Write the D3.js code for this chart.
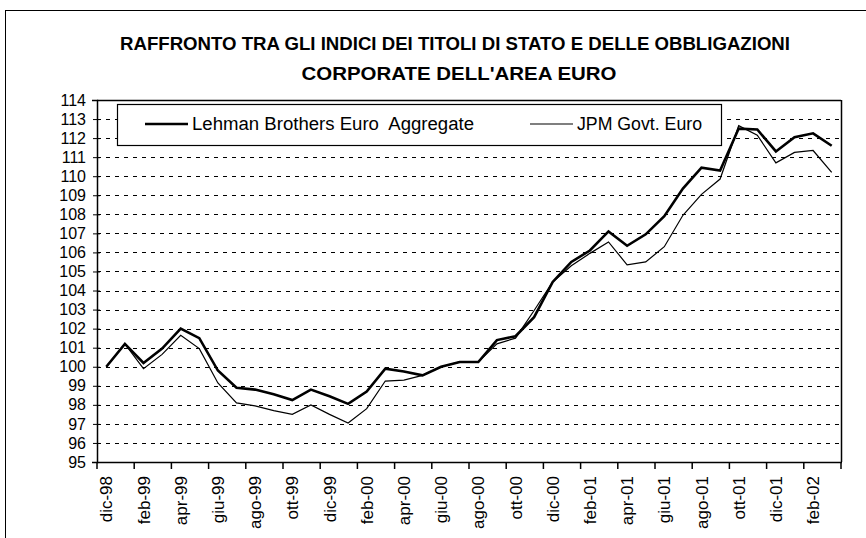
<!DOCTYPE html>
<html>
<head>
<meta charset="utf-8">
<script src="https://cdnjs.cloudflare.com/ajax/libs/d3/7.8.5/d3.min.js"></script>
<style>
body { margin: 0; background: #fff; }
svg { display: block; font-family: Arial, "Liberation Sans", sans-serif; }
</style>
</head>
<body>
<svg id="chart" width="866" height="538"></svg>
<script>
// mesi da dic-98 a mar-02
var months = ["dic-98","gen-99","feb-99","mar-99","apr-99","mag-99","giu-99","lug-99","ago-99","set-99","ott-99","nov-99",
    "dic-99","gen-00","feb-00","mar-00","apr-00","mag-00","giu-00","lug-00","ago-00","set-00","ott-00","nov-00",
    "dic-00","gen-01","feb-01","mar-01","apr-01","mag-01","giu-01","lug-01","ago-01","set-01","ott-01","nov-01",
    "dic-01","gen-02","feb-02","mar-02"];
var lehman = [100.0,101.2,100.2,100.95,102.0,101.5,99.8,98.9,98.8,98.55,98.25,98.8,
    98.45,98.05,98.7,99.9,99.75,99.55,100.0,100.25,100.25,101.4,101.6,102.6,
    104.45,105.5,106.1,107.1,106.35,106.95,107.9,109.35,110.45,110.3,112.5,112.45,
    111.3,112.05,112.25,111.6];
var jpm = [100.0,101.2,99.9,100.65,101.65,100.95,99.15,98.1,97.95,97.7,97.5,98.0,
    97.5,97.05,97.8,99.25,99.3,99.55,100.0,100.25,100.25,101.2,101.5,102.95,
    104.45,105.3,105.95,106.55,105.35,105.5,106.3,107.95,109.05,109.85,112.65,112.15,
    110.7,111.25,111.35,110.2];
var yTicks = d3.range(95, 115);
var titleLines = ["RAFFRONTO TRA GLI INDICI DEI TITOLI DI STATO E DELLE OBBLIGAZIONI",
    "CORPORATE DELL'AREA EURO"];
var legendNames = ["Lehman Brothers Euro  Aggregate", "JPM Govt. Euro"];

var svg = d3.select("#chart");
var pad_left = 97, pad_right = 841, pad_top = 100, pad_bot = 462;

// cornice esterna
svg.append("rect").attr("x", 5.5).attr("y", 10.5).attr("width", 870).attr("height", 540)
    .attr("fill", "none").attr("stroke", "#000").attr("stroke-width", 1);

svg.selectAll(".title").data(titleLines).enter().append("text")
    .attr("class", "title")
    .attr("x", function (d, i) { return i == 0 ? 455 : 459; })
    .attr("y", function (d, i) { return 50 + i * 30; })
    .attr("text-anchor", "middle")
    .attr("font-weight", "bold")
    .attr("font-size", 18)
    .attr("textLength", function (d, i) { return i == 0 ? 670 : 315; })
    .attr("lengthAdjust", "spacingAndGlyphs")
    .text(function (d) { return d; });

var x = d3.scaleBand().domain(months).range([pad_left, pad_right]);
var y = d3.scaleLinear().domain([95, 114]).range([pad_bot, pad_top]);

// griglia tratteggiata
svg.append("g").selectAll("line").data(yTicks.filter(function (d) { return d > 95 && d < 114; }))
    .enter().append("line")
    .attr("x1", pad_left).attr("x2", pad_right)
    .attr("y1", function (d) { return Math.round(y(d)) + 0.5; })
    .attr("y2", function (d) { return Math.round(y(d)) + 0.5; })
    .attr("stroke", "#000").attr("stroke-width", 1).attr("stroke-dasharray", "4,5");

// bordo area grafico
svg.append("line").attr("x1", pad_left).attr("x2", pad_right).attr("y1", pad_top + 0.5).attr("y2", pad_top + 0.5)
    .attr("stroke", "#000").attr("stroke-width", 1.5);
svg.append("line").attr("x1", pad_right + 0.5).attr("x2", pad_right + 0.5).attr("y1", pad_top).attr("y2", pad_bot)
    .attr("stroke", "#000").attr("stroke-width", 1.5);

var yAxis = d3.axisLeft(y).tickValues(yTicks).tickSize(5).tickPadding(6).tickFormat(d3.format("d"));
var gy = svg.append("g").attr("transform", "translate(" + pad_left + ",0)").call(yAxis);
gy.select(".domain").attr("stroke-width", 1.5);
gy.selectAll(".tick line").attr("x2", -4).attr("x1", 3);
gy.selectAll("text").attr("font-size", 16).attr("fill", "#000");

// asse x: tacche ogni due mesi, tra le categorie
var tickPos = d3.range(0, months.length + 1, 2).map(function (i) { return pad_left + i * x.bandwidth(); });
svg.append("line").attr("x1", pad_left).attr("x2", pad_right + 1).attr("y1", pad_bot + 0.5).attr("y2", pad_bot + 0.5)
    .attr("stroke", "#000").attr("stroke-width", 1.5);
svg.append("g").selectAll("line").data(tickPos).enter().append("line")
    .attr("x1", function (d) { return d; }).attr("x2", function (d) { return d; })
    .attr("y1", pad_bot).attr("y2", pad_bot + 7)
    .attr("stroke", "#000").attr("stroke-width", 1.5);
svg.append("g").selectAll("text").data(months.filter(function (d, i) { return i % 2 == 0; }))
    .enter().append("text")
    .attr("transform", function (d) {
        return "translate(" + (x(d) + x.bandwidth() / 2 + 6) + "," + (pad_bot + 14) + ") rotate(-90)";
    })
    .attr("text-anchor", "end")
    .attr("font-size", 17)
    .text(function (d) { return d; });

var line = function (vals) {
    return d3.line()
        .x(function (d, i) { return x(months[i]) + x.bandwidth() / 2; })
        .y(function (d) { return y(d); })(vals);
};
svg.append("path").attr("d", line(jpm)).attr("fill", "none").attr("stroke", "#000").attr("stroke-width", 1.2);
svg.append("path").attr("d", line(lehman)).attr("fill", "none").attr("stroke", "#000").attr("stroke-width", 2.6);

// legenda
svg.append("rect").attr("x", 117.5).attr("y", 104.5).attr("width", 604).attr("height", 41)
    .attr("fill", "#fff").attr("stroke", "#000").attr("stroke-width", 1.2);
var leg = [{x: 145, w: 2.6, len: 282}, {x: 530, w: 1.2, len: 125}];
leg.forEach(function (l, i) {
    svg.append("line").attr("x1", l.x).attr("x2", l.x + 43).attr("y1", 124).attr("y2", 124)
        .attr("stroke", "#000").attr("stroke-width", l.w);
    svg.append("text").attr("x", l.x + 47).attr("y", 130).attr("font-size", 18)
        .style("white-space", "pre")
        .attr("textLength", l.len).attr("lengthAdjust", "spacingAndGlyphs")
        .text(legendNames[i]);
});
</script>
</body>
</html>
